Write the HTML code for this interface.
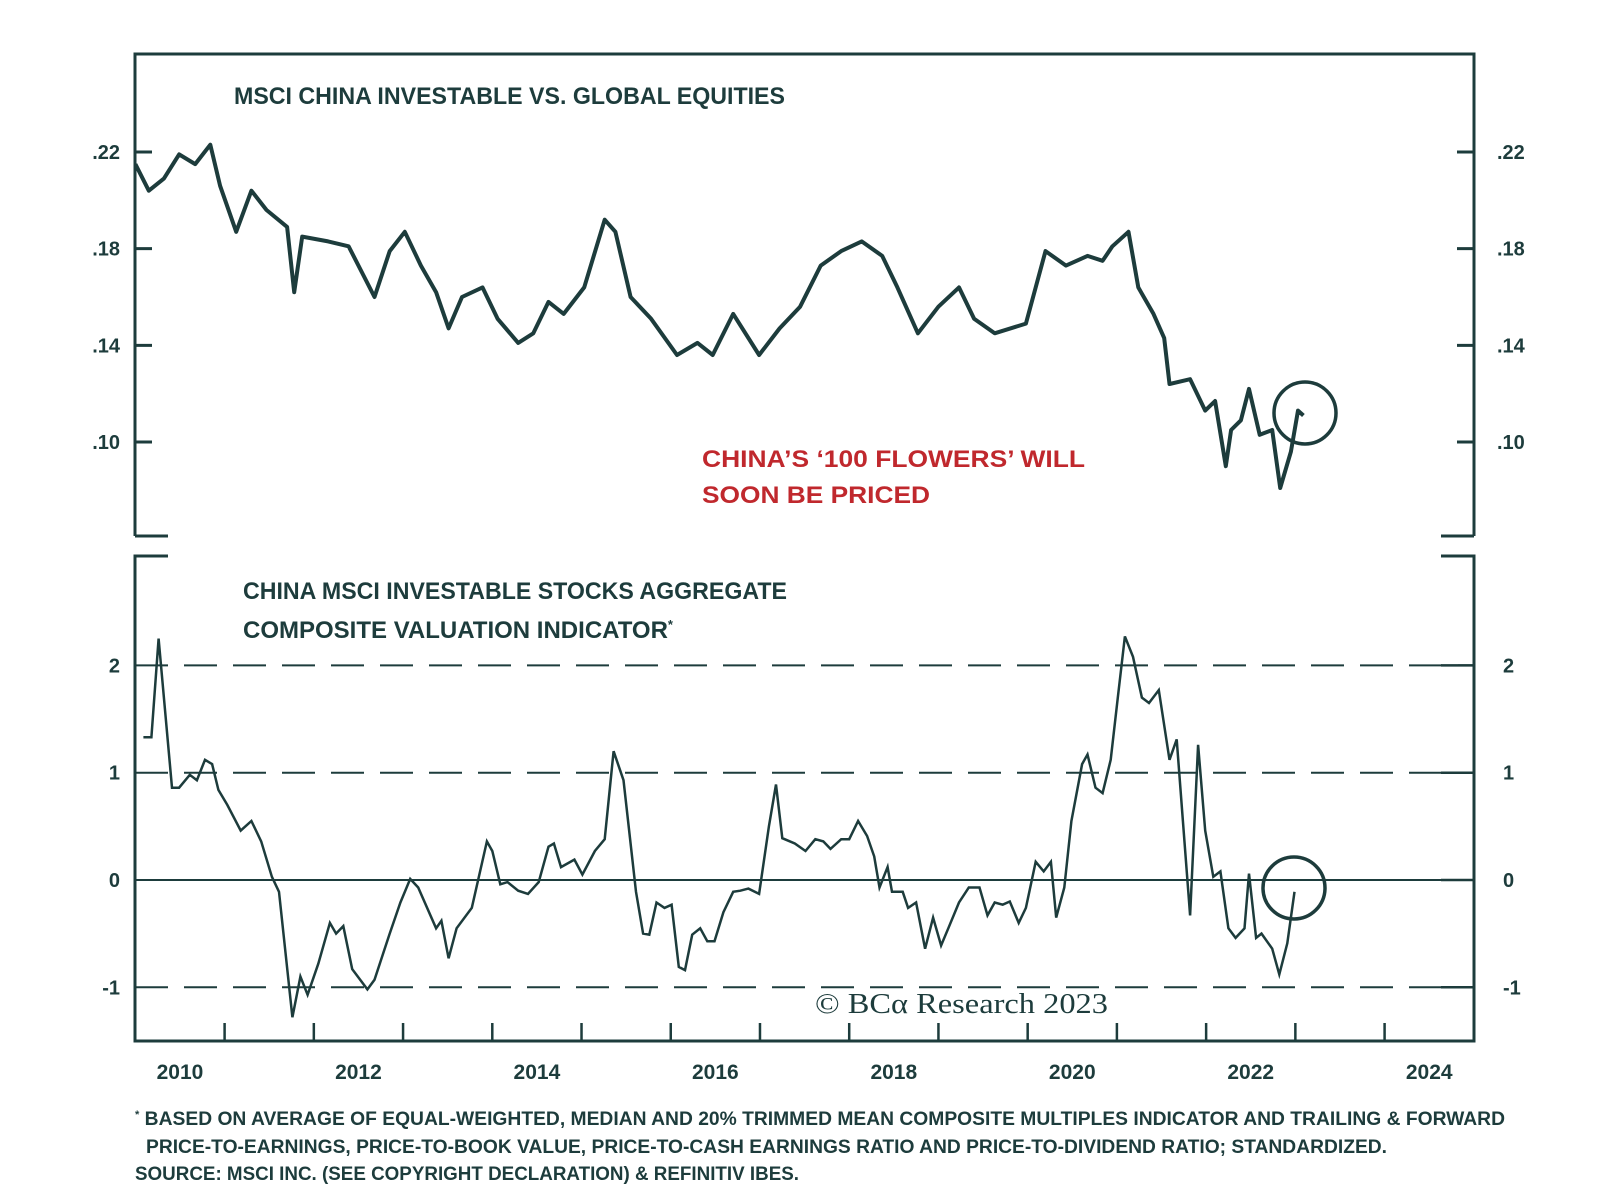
<!DOCTYPE html>
<html><head><meta charset="utf-8"><style>
html,body{margin:0;padding:0;background:#fff}
svg{display:block}
text{font-family:"Liberation Sans",sans-serif;fill:#1d3c3c}
</style></head><body>
<svg id="chart" width="1600" height="1186" viewBox="0 0 1600 1186">
<g id="frame" stroke="#1d3c3c" stroke-width="3" fill="none">
<path d="M135 536 L135 54 L1474 54 L1474 536"/>
<path d="M135 536 H168 M1441 536 H1474"/>
<path d="M168 556 H135 V1041 H1474 V556 H1441"/>
</g>
<g id="upperTicks"></g>
<g id="lowerGrid"></g>
<g id="xTicks"></g>
<text x="234" y="104" font-size="24" font-weight="bold" textLength="551" lengthAdjust="spacingAndGlyphs">MSCI CHINA INVESTABLE VS. GLOBAL EQUITIES</text>
<text x="702" y="467" font-size="24" font-weight="bold" style="fill:#c0282d" textLength="383" lengthAdjust="spacingAndGlyphs">CHINA’S ‘100 FLOWERS’ WILL</text>
<text x="702" y="503" font-size="24" font-weight="bold" style="fill:#c0282d" textLength="228" lengthAdjust="spacingAndGlyphs">SOON BE PRICED</text>
<text x="243" y="599" font-size="24" font-weight="bold" textLength="544" lengthAdjust="spacingAndGlyphs">CHINA MSCI INVESTABLE STOCKS AGGREGATE</text>
<text x="243" y="638" font-size="24" font-weight="bold" textLength="430" lengthAdjust="spacingAndGlyphs">COMPOSITE VALUATION INDICATOR<tspan font-size="13" dy="-9">*</tspan></text>
<text x="815" y="1013" font-size="28" style="font-family:'Liberation Serif',serif" textLength="293" lengthAdjust="spacingAndGlyphs">© BCα Research 2023</text>
<g id="upperSeries"></g>
<g id="lowerSeries"></g>
<circle cx="1305" cy="413" r="31" fill="none" stroke="#1d3c3c" stroke-width="3.5"/>
<circle cx="1294" cy="888" r="31" fill="none" stroke="#1d3c3c" stroke-width="3.5"/>
<g id="xLabels"></g>
<text x="135" y="1125" font-size="19" font-weight="bold" textLength="1370" lengthAdjust="spacingAndGlyphs"><tspan font-size="11" dy="-7">*</tspan><tspan dy="7"> BASED ON AVERAGE OF EQUAL-WEIGHTED, MEDIAN AND 20% TRIMMED MEAN COMPOSITE MULTIPLES INDICATOR AND TRAILING &amp; FORWARD</tspan></text>
<text x="146" y="1153" font-size="19" font-weight="bold" textLength="1241" lengthAdjust="spacingAndGlyphs">PRICE-TO-EARNINGS, PRICE-TO-BOOK VALUE, PRICE-TO-CASH EARNINGS RATIO AND PRICE-TO-DIVIDEND RATIO; STANDARDIZED.</text>
<text x="135" y="1180" font-size="19" font-weight="bold" textLength="664" lengthAdjust="spacingAndGlyphs">SOURCE: MSCI INC. (SEE COPYRIGHT DECLARATION) &amp; REFINITIV IBES.</text>
</svg>
<script>
const upperTickValues = [0.22, 0.18, 0.14, 0.10];
const upperTickLabels = [".22", ".18", ".14", ".10"];
const lowerTickValues = [2, 1, 0, -1];
const lowerTickLabels = ["2", "1", "0", "-1"];
const xLabelYears = [2010, 2012, 2014, 2016, 2018, 2020, 2022, 2024];
const xTickYears = [2011,2012,2013,2014,2015,2016,2017,2018,2019,2020,2021,2022,2023,2024];
const upperDates = [2010.00,2010.15,2010.32,2010.49,2010.67,2010.84,2010.95,2011.13,2011.30,2011.47,2011.70,2011.78,2011.87,2012.16,2012.39,2012.68,2012.85,2013.02,2013.20,2013.37,2013.51,2013.66,2013.89,2014.06,2014.29,2014.46,2014.63,2014.80,2015.03,2015.26,2015.38,2015.55,2015.78,2016.07,2016.30,2016.47,2016.70,2016.99,2017.22,2017.45,2017.68,2017.91,2018.14,2018.37,2018.54,2018.77,2019.00,2019.23,2019.40,2019.63,2019.98,2020.20,2020.43,2020.67,2020.84,2020.95,2021.13,2021.24,2021.41,2021.53,2021.59,2021.82,2021.99,2022.10,2022.22,2022.28,2022.39,2022.48,2022.60,2022.74,2022.83,2022.95,2023.03,2023.09];
const upperValues = [.215,.204,.209,.219,.215,.223,.206,.187,.204,.196,.189,.162,.185,.183,.181,.160,.179,.187,.173,.162,.147,.160,.164,.151,.141,.145,.158,.153,.164,.192,.187,.160,.151,.136,.141,.136,.153,.136,.147,.156,.173,.179,.183,.177,.164,.145,.156,.164,.151,.145,.149,.179,.173,.177,.175,.181,.187,.164,.153,.143,.124,.126,.113,.117,.090,.105,.109,.122,.103,.105,.081,.096,.113,.111];
const lowerDates = [2010.09,2010.18,2010.26,2010.41,2010.49,2010.61,2010.69,2010.78,2010.86,2010.93,2011.03,2011.18,2011.30,2011.41,2011.53,2011.61,2011.76,2011.85,2011.93,2012.05,2012.18,2012.25,2012.33,2012.43,2012.60,2012.68,2012.85,2012.97,2013.08,2013.17,2013.37,2013.43,2013.51,2013.60,2013.77,2013.94,2014.00,2014.09,2014.17,2014.29,2014.40,2014.52,2014.63,2014.69,2014.77,2014.92,2015.01,2015.15,2015.26,2015.36,2015.47,2015.61,2015.69,2015.76,2015.84,2015.93,2016.01,2016.09,2016.16,2016.24,2016.33,2016.41,2016.49,2016.59,2016.70,2016.78,2016.87,2016.99,2017.10,2017.18,2017.25,2017.39,2017.51,2017.62,2017.71,2017.79,2017.91,2018.00,2018.10,2018.20,2018.28,2018.34,2018.43,2018.48,2018.60,2018.66,2018.75,2018.85,2018.94,2019.03,2019.11,2019.23,2019.34,2019.46,2019.55,2019.63,2019.72,2019.80,2019.90,2019.98,2020.09,2020.18,2020.26,2020.32,2020.41,2020.49,2020.61,2020.67,2020.76,2020.84,2020.93,2021.01,2021.09,2021.18,2021.28,2021.36,2021.47,2021.59,2021.67,2021.74,2021.82,2021.91,2021.99,2022.08,2022.16,2022.25,2022.33,2022.43,2022.48,2022.56,2022.62,2022.74,2022.82,2022.91,2022.99];
const lowerValues = [1.33,1.33,2.25,0.86,0.86,0.98,0.93,1.12,1.08,0.84,0.70,0.46,0.55,0.36,0.03,-0.11,-1.28,-0.90,-1.07,-0.78,-0.40,-0.50,-0.43,-0.83,-1.02,-0.93,-0.50,-0.21,0.01,-0.07,-0.45,-0.38,-0.73,-0.45,-0.26,0.36,0.27,-0.04,-0.02,-0.10,-0.13,-0.02,0.31,0.34,0.12,0.19,0.05,0.27,0.38,1.20,0.93,-0.11,-0.50,-0.51,-0.21,-0.26,-0.23,-0.81,-0.84,-0.51,-0.45,-0.57,-0.57,-0.30,-0.11,-0.10,-0.08,-0.13,0.50,0.89,0.39,0.34,0.27,0.38,0.36,0.29,0.38,0.38,0.55,0.41,0.22,-0.07,0.12,-0.11,-0.11,-0.26,-0.21,-0.64,-0.35,-0.61,-0.45,-0.21,-0.07,-0.07,-0.33,-0.21,-0.23,-0.20,-0.40,-0.26,0.17,0.08,0.17,-0.35,-0.07,0.55,1.08,1.17,0.86,0.81,1.12,1.70,2.27,2.08,1.70,1.65,1.77,1.12,1.31,0.55,-0.33,1.26,0.46,0.03,0.08,-0.45,-0.54,-0.45,0.06,-0.54,-0.50,-0.64,-0.88,-0.59,-0.11];

const NS = "http://www.w3.org/2000/svg";
const C = "#1d3c3c";
function xScale(yr){ return 224.6 + (yr - 2011) * 89.23; }
function yUpper(v){ return 152 + (0.22 - v) * 2417; }
function yLower(v){ return 880 - v * 107.3; }
function mk(tag, attrs, parent){ const e = document.createElementNS(NS, tag); for (const k in attrs) e.setAttribute(k, attrs[k]); parent.appendChild(e); return e; }

const ut = document.getElementById('upperTicks');
upperTickValues.forEach((v, i) => {
  const y = yUpper(v);
  const l = mk('line', {x1:135, x2:152, y1:y, y2:y, stroke:C, 'stroke-width':3}, ut);
  
  
  const r = mk('line', {x1:1457, x2:1474, y1:y, y2:y, stroke:C, 'stroke-width':3}, ut);
  
  
  const t1 = mk('text', {x:120, y:y+7, 'font-size':20, 'font-weight':'bold', 'text-anchor':'end'}, ut);
  t1.textContent = upperTickLabels[i];
  
  
  const t2 = mk('text', {x:1497, y:y+7, 'font-size':20, 'font-weight':'bold'}, ut);
  t2.textContent = upperTickLabels[i];
  
  
});

const lg = document.getElementById('lowerGrid');
lowerTickValues.forEach((v, i) => {
  const y = yLower(v);
  const gl = mk('line', {x1:135, x2:1474, y1:y, y2:y, stroke:C, 'stroke-width':2, 'stroke-dasharray': v === 0 ? 'none' : '33 16'}, lg);
  
  
  mk('line', {x1:1441, x2:1474, y1:y, y2:y, stroke:C, 'stroke-width':2.5}, lg);
  const t1 = mk('text', {x:120, y:y+7, 'font-size':20, 'font-weight':'bold', 'text-anchor':'end'}, lg);
  t1.textContent = lowerTickLabels[i];
  
  
  const t2 = mk('text', {x:1503, y:y+7, 'font-size':20, 'font-weight':'bold'}, lg);
  t2.textContent = lowerTickLabels[i];
  
  
});

const xt = document.getElementById('xTicks');
xTickYears.forEach(yr => {
  const x = xScale(yr);
  const l = mk('line', {x1:x, x2:x, y1:1041, y2:1023, stroke:C, 'stroke-width':2.5}, xt);
  
  
});
const xl = document.getElementById('xLabels');
xLabelYears.forEach(yr => {
  const t = mk('text', {x:xScale(yr + 0.5), y:1079, 'font-size':21, 'font-weight':'bold', 'text-anchor':'middle'}, xl);
  t.textContent = String(yr);
  
  
});

const up = mk('polyline', {fill:'none', stroke:C, 'stroke-width':4, 'stroke-linejoin':'round',
  points: upperDates.map((d, i) => xScale(d).toFixed(1) + ',' + yUpper(upperValues[i]).toFixed(1)).join(' ')}, document.getElementById('upperSeries'));



const lp = mk('polyline', {fill:'none', stroke:C, 'stroke-width':2.5, 'stroke-linejoin':'miter',
  points: lowerDates.map((d, i) => xScale(d).toFixed(1) + ',' + yLower(lowerValues[i]).toFixed(1)).join(' ')}, document.getElementById('lowerSeries'));


</script>
</body></html>
